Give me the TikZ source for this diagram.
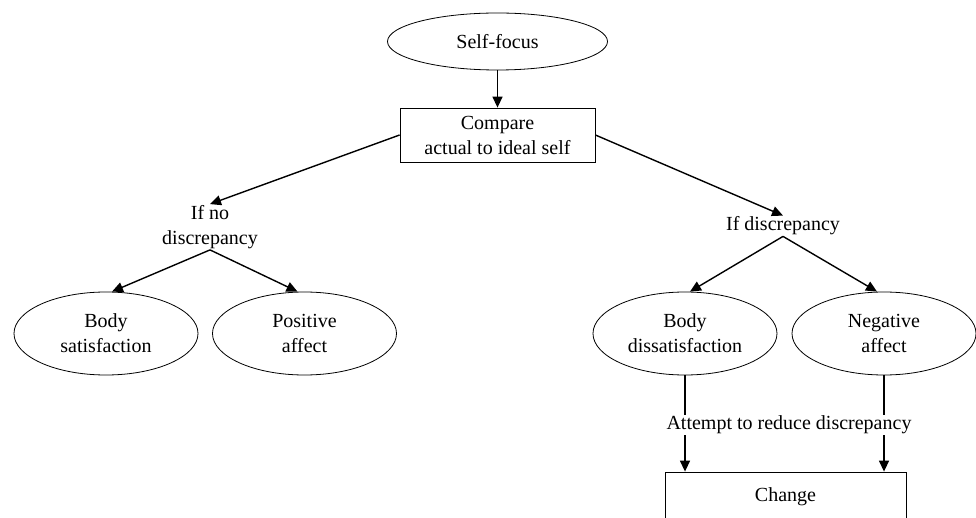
\documentclass[tikz,border=0pt]{standalone}
\usepackage{fontspec}
\setmainfont{Liberation Serif}
\usetikzlibrary{arrows.meta,shapes.geometric,calc}
\tikzset{
  oval/.style={draw, ellipse, line width=0.8pt, inner sep=0pt, minimum width=184pt, minimum height=83pt, align=center},
  topoval/.style={draw, ellipse, line width=0.8pt, inner sep=0pt, minimum width=220pt, minimum height=57pt, align=center},
  boxnode/.style={draw, rectangle, line width=0.8pt, inner sep=0pt, minimum width=195pt, minimum height=54pt, align=center},
  lbl/.style={inner sep=1pt, align=center},
  conn/.style={line width=1.4pt, -{Triangle[length=11pt,width=10pt]}},
  plain/.style={line width=1.4pt},
}
\begin{document}
\begin{tikzpicture}[x=1pt,y=-1pt,font=\fontsize{20}{25}\selectfont]
\useasboundingbox (0,0) rectangle (976,518);
\clip (0,0) rectangle (976,518);
\node[topoval] (sf) at (497.5,41.5) {Self-focus};
\node[boxnode] (cmp) at (497.5,135) {Compare\\actual to ideal self};
\node[lbl] (ifno) at (210,227) {If no\\discrepancy};
\node[lbl] (ifd) at (783,226) {If discrepancy};
\node[oval] (bs) at (106,333.5) {Body\\satisfaction};
\node[oval] (pa) at (304.5,333.5) {Positive\\affect};
\node[oval] (bd) at (685,333.5) {Body\\dissatisfaction};
\node[oval] (na) at (884,333.5) {Negative\\affect};
\node[lbl] (att) at (789,425) {Attempt to reduce discrepancy};
\node[draw, rectangle, line width=0.8pt, inner sep=0pt, minimum width=241pt, minimum height=70pt] (chg) at (785.5,507) {};
\node[lbl] (chgt) at (785.5,497) {Change};
\draw[conn] (sf.south) -- (cmp.north);
\draw[conn] (cmp.west) -- (ifno.north);
\draw[conn] (cmp.east) -- (ifd.north);
\draw[conn] (ifno.south) -- ($(bs.north)+(6,0)$);
\draw[conn] (ifno.south) -- ($(pa.north)+(-7,0)$);
\draw[conn] (ifd.south) -- ($(bd.north)+(5,0)$);
\draw[conn] (ifd.south) -- ($(na.north)+(-7,0)$);
\coordinate (bdt) at (bd.south |- att.north);
\coordinate (nat) at (na.south |- att.north);
\coordinate (bdb) at (bd.south |- att.south);
\coordinate (nab) at (na.south |- att.south);
\draw[plain] (bd.south) -- (bdt);
\draw[plain] (na.south) -- (nat);
\draw[conn] (bdb) -- (bdb |- chg.north);
\draw[conn] (nab) -- (nab |- chg.north);
\end{tikzpicture}
\end{document}
